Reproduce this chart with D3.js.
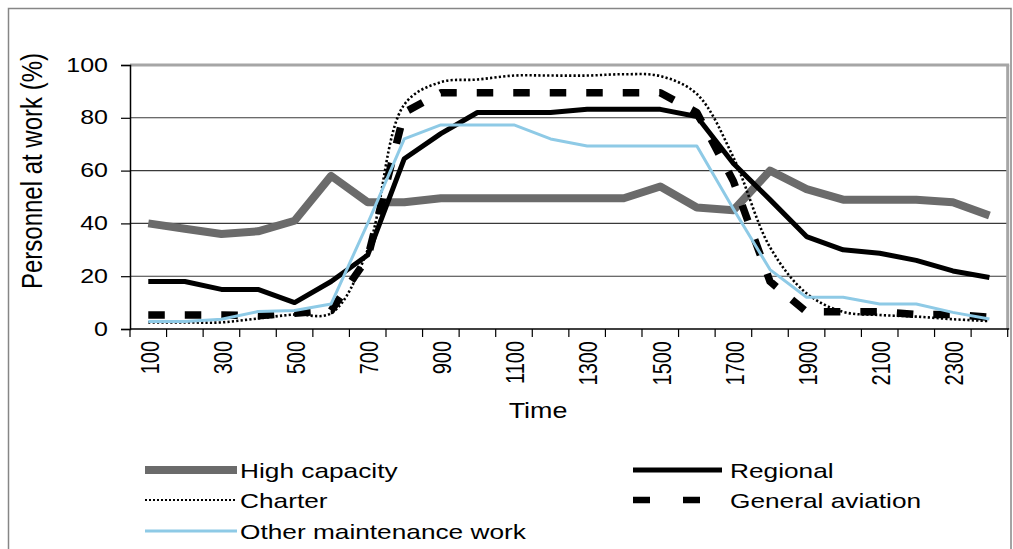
<!DOCTYPE html>
<html>
<head>
<meta charset="utf-8">
<script src="https://cdn.jsdelivr.net/npm/d3@7"></script>
<style>
  html, body { margin: 0; padding: 0; background: #fff; }
  svg { display: block; }
  text { font-family: "Liberation Sans", Arial, sans-serif; fill: #000; }
</style>
</head>
<body>
<svg id="chart" width="1013" height="549"></svg>
<script>
// ---- data ----
const hours = [100,200,300,400,500,600,700,800,900,1000,1100,1200,1300,1400,1500,1600,1700,1800,1900,2000,2100,2200,2300,2400];
const tickLabels = ["100","300","500","700","900","1100","1300","1500","1700","1900","2100","2300"];
const yTicks = [0,20,40,60,80,100];

const highCapacity = [40,38,36,37,41,58,48,48,49.5,49.5,49.5,49.5,49.5,49.5,54,46,45,60,53,49,49,49,48,43];
const regional     = [18,18,15,15,10,18,28,64.5,74,82,82,82,83.2,83.2,83.2,80.5,62.7,49,35,30,28.7,26,22,19.5];
const charter      = [2.5,2.5,2.5,4,5.5,6,30,85,93.5,94.5,96,96,96,96.5,95.8,89,65,31,13.5,6.5,5.3,4.7,3.7,3];
const generalAviation = [5.3,5.3,5.3,5,6,7,27,82,89.5,89.5,89.5,89.5,89.5,89.5,89.5,82,56,18,6.5,6.5,6.5,5.5,5.5,4.5];
const otherMaintenance = [2.8,2.8,3.7,6.6,7,9.5,40,72,77.3,77.3,77.3,72,69.3,69.3,69.3,69.3,45.5,22.5,12,12,9.5,9.5,6.3,3.8];

const seriesNames = ["High capacity","Regional","Charter","General aviation","Other maintenance work"];

// ---- styles ----
const styles = {
  "High capacity":          {color:"#6b6b6b", width:8,   dash:null,        legendDash:null,    curve:d3.curveLinear},
  "Regional":               {color:"#000000", width:5,   dash:null,        legendDash:null,    curve:d3.curveLinear},
  "Charter":                {color:"#000000", width:2.6, dash:"2.2,2.2",   legendDash:"2,2",   curve:d3.curveCatmullRom.alpha(0.5)},
  "General aviation":       {color:"#000000", width:7.5, dash:"16.5,20",   legendDash:"17,33", curve:d3.curveLinear},
  "Other maintenance work": {color:"#8ecae6", width:3,   dash:null,        legendDash:null,    curve:d3.curveLinear}
};
const seriesData = {
  "High capacity": highCapacity,
  "Regional": regional,
  "Charter": charter,
  "General aviation": generalAviation,
  "Other maintenance work": otherMaintenance
};

const SX = 1.25; // horizontal stretch of the reference's text
const plot = {l:130, r:1007.7, t:65, b:329};

const svg = d3.select("#chart");
svg.append("rect").attr("width",1013).attr("height",549).attr("fill","#fff");
// outer chart border
svg.append("rect").attr("x",8.5).attr("y",8.5).attr("width",1002.5).attr("height",600)
  .attr("fill","none").attr("stroke","#868686").attr("stroke-width",1.5);

const x = d3.scaleBand().domain(hours).range([plot.l, plot.r]).paddingInner(0).paddingOuter(0);
const cx = h => x(h) + x.bandwidth()/2;
const y = d3.scaleLinear().domain([0,100]).range([plot.b, plot.t]);

// gridlines
svg.append("g").selectAll("line").data(yTicks.filter(v => v>0 && v<100)).join("line")
  .attr("x1",plot.l).attr("x2",plot.r).attr("y1",d=>y(d)).attr("y2",d=>y(d))
  .attr("stroke","#3a3a3a").attr("stroke-width",1.1);

// plot area border (top & right)
svg.append("line").attr("x1",plot.l).attr("x2",plot.r+1.5).attr("y1",y(100)).attr("y2",y(100))
  .attr("stroke","#a6a6a6").attr("stroke-width",3);
svg.append("line").attr("x1",plot.r).attr("x2",plot.r).attr("y1",y(100)).attr("y2",plot.b)
  .attr("stroke","#a6a6a6").attr("stroke-width",3);

// y axis
const yAxis = d3.axisLeft(y).tickValues(yTicks).tickSize(9).tickFormat("");
const gy = svg.append("g").attr("transform",`translate(${plot.l},0)`).call(yAxis);
gy.select(".domain").attr("stroke","#000").attr("stroke-width",1.5);
gy.selectAll(".tick line").attr("stroke","#000").attr("stroke-width",1.2);
svg.append("g").selectAll("text").data(yTicks).join("text")
  .attr("transform", d => `translate(108,${y(d)}) scale(${SX},1)`)
  .attr("text-anchor","end").attr("dominant-baseline","central")
  .style("font-size","20px").text(d => d);

// x axis (category axis, ticks between categories)
svg.append("line").attr("x1",plot.l).attr("x2",plot.r+1.5).attr("y1",plot.b).attr("y2",plot.b)
  .attr("stroke","#000").attr("stroke-width",1.5);
const boundaries = hours.map(h => x(h)).concat([x(hours[hours.length-1]) + x.bandwidth()]);
svg.append("g").selectAll("line").data(boundaries).join("line")
  .attr("x1",d=>d).attr("x2",d=>d).attr("y1",plot.b).attr("y2",plot.b+8)
  .attr("stroke","#000").attr("stroke-width",1.2);
svg.append("g").selectAll("text").data(tickLabels).join("text")
  .attr("transform", d => `translate(${cx(+d)+2},341) scale(${SX},1) rotate(-90)`)
  .attr("text-anchor","end").attr("dominant-baseline","central")
  .style("font-size","20px").text(d => d);

// axis titles
svg.append("text").attr("transform",`translate(538,418) scale(${SX},1)`)
  .attr("text-anchor","middle").style("font-size","21.5px").text("Time");
svg.append("text").attr("transform",`translate(41.5,171) scale(${SX},1) rotate(-90)`)
  .attr("text-anchor","middle").style("font-size","24px").text("Personnel at work (%)");

// series
const gLines = svg.append("g");
seriesNames.forEach(name => {
  const st = styles[name];
  const line = d3.line().x((d,i)=>cx(hours[i])).y(d=>y(d)).curve(st.curve);
  gLines.append("path").datum(seriesData[name])
    .attr("d", line).attr("fill","none")
    .attr("stroke", st.color).attr("stroke-width", st.width)
    .attr("stroke-linejoin","round")
    .attr("stroke-dasharray", st.dash);
});

// legend
const legendItems = [
  {name:"High capacity", x1:145, x2:237, tx:240, y:470},
  {name:"Regional", x1:633, x2:722, tx:730, y:470},
  {name:"Charter", x1:145, x2:237, tx:240, y:500},
  {name:"General aviation", x1:633, x2:722, tx:730, y:500},
  {name:"Other maintenance work", x1:145, x2:237, tx:240, y:531}
];
const gl = svg.append("g");
legendItems.forEach(it => {
  const st = styles[it.name];
  gl.append("line").attr("x1",it.x1).attr("x2",it.x2).attr("y1",it.y).attr("y2",it.y)
    .attr("stroke",st.color).attr("stroke-width", it.name==="Charter" ? 2.2 : (it.name==="General aviation" ? 6.5 : st.width))
    .attr("stroke-dasharray", st.legendDash);
  gl.append("text").attr("transform",`translate(${it.tx},${it.y+7.5}) scale(${SX},1)`)
    .style("font-size","21px").text(it.name);
});
</script>
</body>
</html>
